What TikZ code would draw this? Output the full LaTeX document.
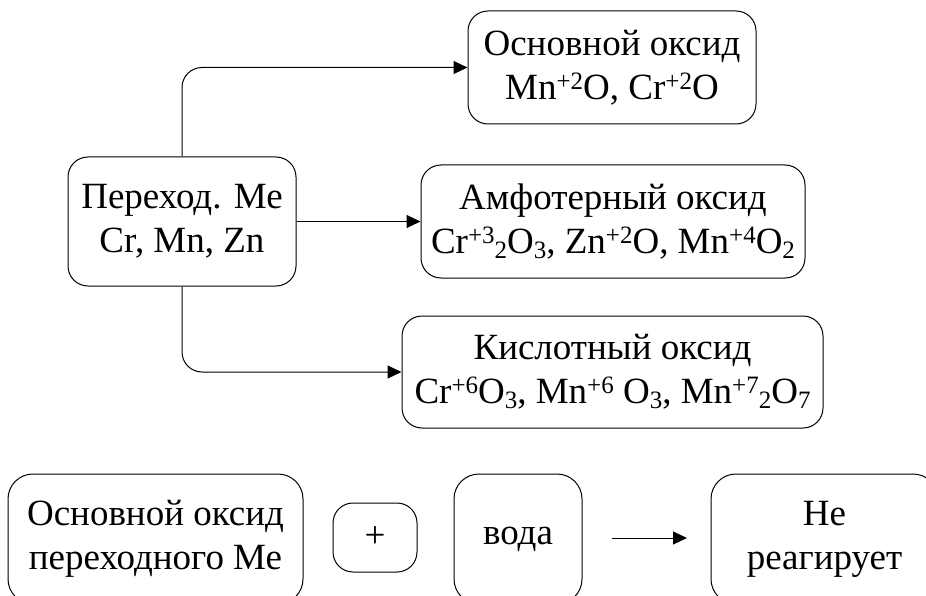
\documentclass[tikz,border=0pt]{standalone}
\usepackage{fontspec}
\setmainfont{Liberation Serif}
\usetikzlibrary{arrows.meta}
\newcommand\supx[1]{\raisebox{10pt}{\fontsize{25}{25}\selectfont #1}}
\newcommand\subx[1]{\raisebox{-5pt}{\fontsize{25}{25}\selectfont #1}}
\begin{document}
\begin{tikzpicture}[x=1pt,y=-1pt,
  box/.style={draw, line width=1pt, rounded corners=20pt, inner sep=0pt, align=center,
    font=\fontsize{37}{44}\selectfont},
  bigbox/.style={box, rounded corners=25pt, minimum height=130pt},
  conn/.style={draw, line width=1pt, -{Triangle[length=14pt,width=13pt]}, rounded corners=20pt}]
\useasboundingbox (0,0) rectangle (926,596);
\node[box, minimum width=288pt, minimum height=113pt] (osn) at (612,67.5)
  {Основной оксид\\Mn\supx{+2}O, Cr\supx{+2}O};
\node[box, minimum width=228pt, minimum height=129pt] (per) at (182,221.5)
  {Переход. Ме\\Cr, Mn, Zn};
\node[box, minimum width=384pt, minimum height=113pt] (amf) at (613,221.5)
  {Амфотерный оксид\\Cr\supx{+3}\subx{2}O\subx{3}, Zn\supx{+2}O, Mn\supx{+4}O\subx{2}};
\node[box, minimum width=421pt, minimum height=112pt] (kis) at (612.5,372)
  {Кислотный оксид\\Cr\supx{+6}O\subx{3}, Mn\supx{+6} O\subx{3}, Mn\supx{+7}\subx{2}O\subx{7}};
\node[bigbox, minimum width=295pt] (b1) at (155.5,539)
  {Основной оксид\\переходного Ме};
\node[box, minimum width=84pt, minimum height=69pt] (plus) at (375,537.5) {+};
\node[bigbox, minimum width=128pt] (voda) at (518,539) {вода};
\node[bigbox, minimum width=227pt] (ne) at (824.5,539)
  {Не\\реагирует};
\coordinate (arS) at (612,538);
\coordinate (arE) at (687,538);
\draw[conn] (per.north) |- (osn.west);
\draw[conn] (per.east) -- (amf.west);
\draw[conn] (per.south) |- (kis.west);
\draw[conn] (arS) -- (arE);
\end{tikzpicture}
\end{document}
